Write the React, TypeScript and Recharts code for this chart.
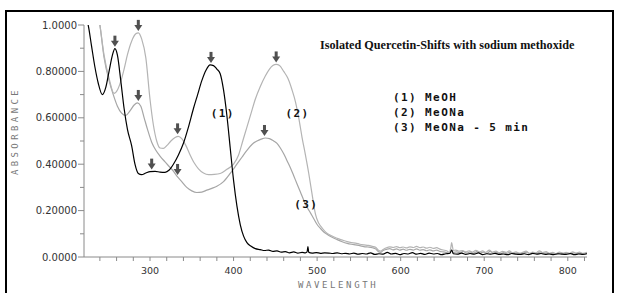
import React from 'react';
import { ComposedChart, Line, Scatter, XAxis, YAxis } from 'recharts';

// ---- Data (wavelength nm, absorbance) ----
const meohWl = [221,226,230,234,238,243,247,251,255,258,261,265,269,273,278,282,286,290,295,300,306,312,318,323,328,334,340,346,352,357,362,367,372,376,380,384,388,392,396,400,404,408,412,416,421,426,432,
437,442,447,452,457,462,467,472,477,482,486,488,489,490,494,499,504,509,514,519,524,529,534,539,544,549,554,559,564,569,574,579,584,589,594,599,604,609,614,619,624,629,634,639,644,649,654,659,661,663,668,673,678,683,688,693,698,703,708,713,718,723,728,733,738,743,748,753,758,763,768,773,778,783,788,793,798,803,808,813,818,823];
const meohAbs = [1.04,1.0,0.91,0.82,0.75,0.70,0.73,0.80,0.87,0.898,0.87,0.76,0.64,0.55,0.48,0.40,0.36,0.355,0.362,0.368,0.369,0.366,0.365,0.375,0.40,0.44,0.49,0.56,0.64,0.70,0.76,0.805,0.828,0.825,0.81,0.79,0.72,0.61,0.47,0.33,0.22,0.14,0.09,0.062,0.046,0.036,0.032,
0.028,0.03,0.024,0.026,0.021,0.023,0.018,0.022,0.017,0.02,0.018,0.022,0.045,0.02,0.017,0.019,0.016,0.018,0.017,0.015,0.018,0.014,0.016,0.013,0.017,0.012,0.015,0.013,0.018,0.011,0.014,0.012,0.02,0.013,0.016,0.01,0.015,0.013,0.019,0.012,0.016,0.011,0.017,0.013,0.015,0.01,0.014,0.016,0.03,0.014,0.012,0.017,0.011,0.015,0.012,0.018,0.01,0.014,0.012,0.016,0.011,0.013,0.01,0.015,0.012,0.011,0.014,0.01,0.016,0.012,0.015,0.011,0.013,0.01,0.014,0.012,0.011,0.015,0.01,0.013,0.011,0.014];

const meonaWl = [232,236,240,245,251,257,261,265,269,273,278,283,286,290,295,300,304,308,312,316,320,325,330,334,338,343,348,353,358,364,370,377,384,392,400,406,411,416,421,426,432,438,443,447,451,455,460,465,470,474,478,482,486,490,494,498,502,506,511,516,521,526,531,536,
541,546,551,556,561,566,570,573,576,579,583,587,591,595,599,603,607,611,615,619,623,627,631,635,639,643,647,651,655,658,660,661,662,663,666,670,674,678,682,686,690,694,698,702,706,710,714,718,722,726,730,734,738,742,746,750,754,758,762,766,770,774,778,782,786,790,794,798,802,806,810,814,818,823];
const meonaAbs = [1.2,1.08,1.0,0.87,0.77,0.705,0.72,0.757,0.81,0.872,0.93,0.962,0.966,0.94,0.858,0.68,0.57,0.5,0.47,0.468,0.48,0.5,0.515,0.52,0.51,0.48,0.44,0.405,0.38,0.362,0.355,0.356,0.36,0.378,0.40,0.44,0.5,0.56,0.62,0.68,0.735,0.78,0.81,0.825,0.83,0.825,0.80,0.77,0.72,0.67,0.6,0.515,0.44,0.36,0.27,0.185,0.145,0.125,0.105,0.094,0.085,0.078,0.072,0.066,
0.062,0.06,0.055,0.052,0.05,0.046,0.042,0.03,0.025,0.032,0.04,0.044,0.041,0.045,0.04,0.043,0.039,0.044,0.041,0.046,0.04,0.043,0.038,0.042,0.037,0.04,0.034,0.03,0.027,0.02,0.04,0.062,0.045,0.028,0.03,0.025,0.028,0.022,0.027,0.021,0.029,0.022,0.026,0.02,0.03,0.021,0.025,0.019,0.024,0.02,0.026,0.018,0.022,0.017,0.02,0.025,0.016,0.021,0.018,0.027,0.019,0.023,0.016,0.02,0.015,0.021,0.017,0.02,0.016,0.022,0.017,0.021,0.016,0.02];

const meona5Wl = [232,236,240,245,251,256,261,266,271,276,281,285,289,293,297,302,307,312,318,323,328,333,338,344,350,356,362,368,374,380,388,396,404,410,416,422,428,433,438,443,448,452,456,460,464,468,472,476,480,484,488,492,496,500,504,508,513,518,524,530,536,
541,546,551,556,561,566,570,573,576,579,583,587,591,595,599,603,607,611,615,619,623,627,631,635,639,643,647,651,655,658,661,663,667,671,675,679,683,687,691,695,699,703,707,711,715,719,723,727,731,735,739,743,747,751,755,759,763,767,771,775,779,783,787,791,795,799,803,807,811,815,819,823];
const meona5Abs = [1.2,1.08,1.0,0.86,0.76,0.7,0.65,0.62,0.61,0.63,0.655,0.664,0.65,0.6,0.55,0.495,0.46,0.435,0.41,0.39,0.37,0.345,0.325,0.3,0.285,0.278,0.28,0.288,0.296,0.305,0.325,0.36,0.40,0.43,0.46,0.485,0.5,0.508,0.513,0.51,0.5,0.49,0.47,0.445,0.415,0.385,0.35,0.315,0.28,0.245,0.215,0.19,0.165,0.14,0.123,0.108,0.095,0.085,0.075,0.066,0.059,
0.055,0.052,0.049,0.045,0.043,0.04,0.035,0.024,0.02,0.028,0.033,0.036,0.031,0.035,0.03,0.034,0.029,0.033,0.03,0.035,0.029,0.032,0.027,0.031,0.026,0.03,0.024,0.022,0.019,0.016,0.03,0.02,0.022,0.018,0.024,0.017,0.022,0.016,0.023,0.017,0.021,0.015,0.024,0.016,0.02,0.014,0.019,0.015,0.021,0.014,0.018,0.013,0.017,0.021,0.013,0.017,0.014,0.022,0.015,0.018,0.013,0.016,0.012,0.017,0.014,0.016,0.013,0.018,0.014,0.017,0.013,0.016];

// peak markers (down arrows)
const arrowWl = [258, 286, 286, 333, 302, 333, 373, 451, 437];
const arrowAbs = [0.898, 0.966, 0.664, 0.52, 0.368, 0.345, 0.828, 0.83, 0.513];

// curve labels
const curveLabels = ['(1)', '(2)', '(3)'];
const curveLabelWl = [387, 476.5, 487];
const curveLabelAbs = [0.62, 0.62, 0.228];

const legendLines = ['(1) MeOH', '(2) MeONa', '(3) MeONa - 5 min'];
const title = 'Isolated Quercetin-Shifts with sodium methoxide';

const xTicks = [240,260,280,300,320,340,360,380,400,420,440,460,480,500,520,540,560,580,600,620,640,660,680,700,720,740,760,780,800,820];
const yTicks = [0,0.1,0.2,0.3,0.4,0.5,0.6,0.7,0.8,0.9,1.0];
const yTickLabels: Record<string, string> = { '0': '0.0000', '0.2': '0.20000', '0.4': '0.40000', '0.6': '0.60000', '0.8': '0.80000', '1': '1.0000' };

const zip = (xs: number[], ys: number[]) => xs.map((x, i) => ({ x, y: ys[i] }));
const s1 = zip(meohWl, meohAbs);
const s2 = zip(meonaWl, meonaAbs);
const s3 = zip(meona5Wl, meona5Abs);
const arrows = zip(arrowWl, arrowAbs);
const labels = curveLabels.map((t, i) => ({ x: curveLabelWl[i], y: curveLabelAbs[i], t }));

const MONO = '"DejaVu Sans Mono", monospace';
const AXIS = '#8a8a8a';

const ArrowShape = (p: any) => {
  const { cx, cy } = p;
  return (
    <g>
      <rect x={cx - 1.5} y={cy - 13} width={3} height={6} fill="#505050" />
      <polygon points={`${cx - 4},${cy - 8} ${cx + 4},${cy - 8} ${cx},${cy - 2}`} fill="#505050" />
    </g>
  );
};

const LabelShape = (p: any) => {
  const { cx, cy, payload } = p;
  return (
    <text x={cx} y={cy} dy="0.35em" textAnchor="middle" fontFamily={MONO} fontWeight="bold" fontSize={11} letterSpacing={1.4} fill="#111">
      {payload.t}
    </text>
  );
};

const XTick = (p: any) => {
  const { x, y, payload } = p;
  const v = payload.value;
  const major = v % 100 === 0;
  return (
    <g>
      <line x1={x} x2={x} y1={y} y2={y + 4} stroke={AXIS} strokeWidth={1} />
      {major && (
        <text x={x} y={y + 14} dy="0.35em" textAnchor="middle" fontFamily='"DejaVu Sans", sans-serif' fontSize={9.5} fill="#333">
          {v}
        </text>
      )}
    </g>
  );
};

const YTick = (p: any) => {
  const { x, y, payload } = p;
  const key = String(Math.round(payload.value * 10) / 10);
  const lab = yTickLabels[key];
  return (
    <g>
      <line x1={x - (lab ? 6 : 4)} x2={x} y1={y} y2={y} stroke={AXIS} strokeWidth={1} />
      {lab && (
        <text x={x - 7} y={y} dy="0.35em" textAnchor="end" fontFamily='"DejaVu Sans", sans-serif' fontSize={10} fill="#333">
          {lab}
        </text>
      )}
    </g>
  );
};

export default function App() {
  return (
    <div style={{ position: 'absolute', left: 0, top: 0, width: 618, height: 293, background: '#fff', overflow: 'hidden' }}>
      <div style={{ position: 'absolute', left: 5, top: 10, width: 609, height: 300, border: '2px solid #000', boxSizing: 'border-box' }} />
      <ComposedChart width={618} height={293} margin={{ top: 25, right: 31, left: 0, bottom: 0 }}>
        <XAxis
          xAxisId="main"
          dataKey="x"
          type="number"
          domain={[221, 823]}
          allowDataOverflow
          ticks={xTicks}
          interval={0}
          tickSize={0}
          tickMargin={0}
          height={36}
          stroke={AXIS}
          tick={<XTick />}
        />
        <XAxis xAxisId="marks" dataKey="x" type="number" domain={[221, 823]} hide />
        <YAxis
          yAxisId="main"
          type="number"
          domain={[0, 1]}
          allowDataOverflow
          ticks={yTicks}
          interval={0}
          tickSize={0}
          tickMargin={0}
          width={84}
          stroke={AXIS}
          tick={<YTick />}
        />
        <YAxis yAxisId="marks" type="number" domain={[0, 1]} hide />
        <Line xAxisId="main" yAxisId="main" data={s3} dataKey="y" type="monotone" stroke="#a6a6a6" strokeWidth={1.2} dot={false} isAnimationActive={false} />
        <Line xAxisId="main" yAxisId="main" data={s2} dataKey="y" type="monotone" stroke="#b4b4b4" strokeWidth={1.2} dot={false} isAnimationActive={false} />
        <Line xAxisId="main" yAxisId="main" data={s1} dataKey="y" type="monotone" stroke="#000" strokeWidth={1.2} dot={false} isAnimationActive={false} />
        <Scatter xAxisId="marks" yAxisId="marks" data={arrows} dataKey="y" shape={<ArrowShape />} isAnimationActive={false} />
        <Scatter xAxisId="marks" yAxisId="marks" data={labels} dataKey="y" shape={<LabelShape />} isAnimationActive={false} />
      </ComposedChart>
      <div style={{ position: 'absolute', left: 320, top: 37, fontFamily: '"Liberation Serif", serif', fontWeight: 'bold', fontSize: 12.2, whiteSpace: 'nowrap', color: '#111', lineHeight: '16px' }}>
        {title}
      </div>
      <div style={{ position: 'absolute', left: 393, top: 90, fontFamily: MONO, fontWeight: 'bold', fontSize: 11, letterSpacing: 1.4, whiteSpace: 'pre', color: '#111', lineHeight: '15px' }}>
        {legendLines.map((l) => (<div key={l}>{l}</div>))}
      </div>
      <div style={{ position: 'absolute', left: 298, top: 278, fontFamily: MONO, fontSize: 9, letterSpacing: 2.6, whiteSpace: 'nowrap', color: '#777', lineHeight: '14px' }}>
        WAVELENGTH
      </div>
      <div style={{ position: 'absolute', left: 15, top: 131, width: 0, height: 0 }}>
        <div style={{ position: 'absolute', left: 0, top: 0, transform: 'translate(-50%, -50%) rotate(-90deg)', fontFamily: MONO, fontSize: 9, letterSpacing: 3.4, whiteSpace: 'nowrap', color: '#777', lineHeight: '12px' }}>
          ABSORBANCE
        </div>
      </div>
    </div>
  );
}
